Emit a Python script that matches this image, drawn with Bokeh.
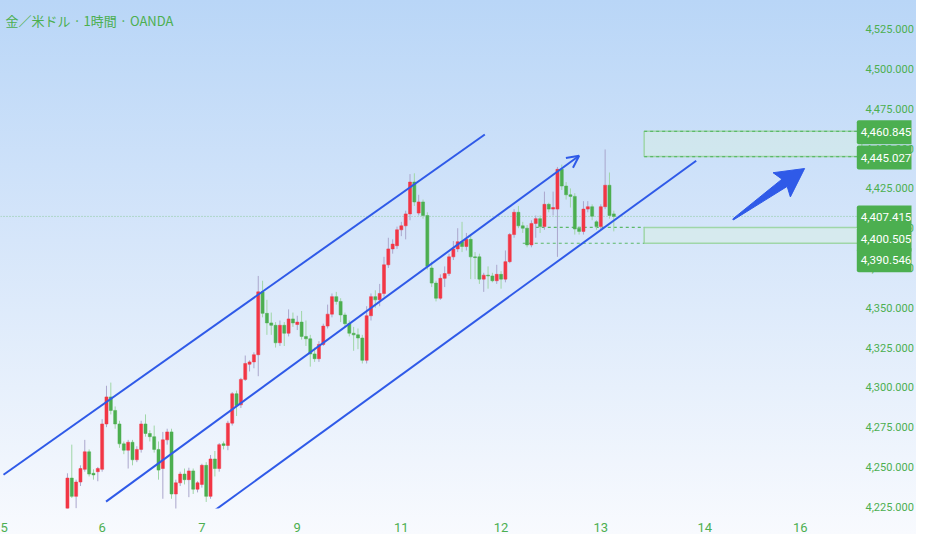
import numpy as np
from bokeh.plotting import figure
from bokeh.models import (ColumnDataSource, FixedTicker, NumeralTickFormatter, Label,
                          Arrow, OpenHead, Range1d)
from bokeh.embed import file_html
from bokeh.resources import INLINE

# ---------------- data (hourly candles) ----------------
opens = [4222, 4243, 4231.5, 4240.5, 4248.5, 4259.5, 4246, 4247, 4248.5, 4277,
         4294, 4285.5, 4277, 4264.5, 4260.5, 4265.5, 4254.5, 4261, 4277, 4271,
         4269, 4261, 4249, 4267, 4272, 4233, 4240, 4245.5, 4242, 4247.5,
         4236, 4239, 4251, 4231.5, 4255, 4249, 4264.5, 4263.5, 4277.5, 4296,
         4289, 4305, 4314.5, 4316, 4320.5, 4360, 4346.5, 4340.5, 4339, 4328,
         4339, 4334, 4343, 4339.5, 4341, 4332, 4330.5, 4321, 4318, 4327,
         4338.5, 4346, 4357, 4354, 4345.5, 4340, 4334, 4333, 4331, 4317,
         4345, 4357, 4355, 4359, 4377, 4387, 4389, 4399, 4401.5, 4409,
         4429, 4409.5, 4416.5, 4408, 4375, 4365.5, 4356, 4368.5, 4371.5, 4382,
         4387, 4391.5, 4388.5, 4393, 4382, 4382, 4368, 4370.5, 4370, 4367,
         4371, 4368, 4379, 4396, 4410, 4401.5, 4400, 4389.5, 4403, 4406,
         4401, 4415, 4412, 4412, 4437, 4426.5, 4421, 4420, 4400, 4398,
         4412, 4413.5, 4404, 4401, 4413.5, 4427, 4409]
highs = [4246, 4264, 4242, 4251, 4267, 4261, 4248.5, 4250, 4280, 4301,
         4303, 4288, 4279, 4266, 4267, 4267, 4263, 4279, 4283, 4273,
         4276, 4266, 4272, 4274, 4274, 4242, 4247, 4249, 4249.5, 4249,
         4241, 4252, 4253, 4257.5, 4260, 4265, 4266, 4279, 4297, 4298,
         4306, 4320, 4317, 4322, 4370, 4367, 4355, 4347, 4341, 4342,
         4341, 4349, 4347, 4345, 4348, 4342, 4333, 4325, 4329, 4340,
         4352, 4359, 4360, 4356, 4347, 4342, 4338, 4337, 4333, 4351,
         4359, 4361, 4365, 4382, 4394, 4393, 4401, 4404, 4411, 4434,
         4434.5, 4421, 4418, 4410, 4379, 4367, 4371, 4376, 4384, 4392,
         4400, 4404, 4397, 4396, 4385, 4384, 4372, 4376, 4372, 4377,
         4373, 4386, 4397, 4412, 4414, 4404, 4402, 4405, 4408, 4408,
         4423, 4416, 4423, 4438.5, 4440, 4429, 4425, 4422, 4401, 4417,
         4417, 4415, 4405, 4415, 4449.5, 4435, 4411]
lows = [4221, 4230.5, 4224, 4238, 4247, 4244, 4242, 4241, 4247, 4275,
        4283, 4274, 4262, 4258, 4249, 4251, 4253, 4259, 4269, 4266,
        4259, 4242, 4230, 4264, 4230, 4222, 4238, 4239, 4231, 4233,
        4234, 4237, 4228, 4230, 4244, 4247, 4261, 4260.5, 4276, 4282,
        4287, 4304, 4310, 4312, 4307, 4344, 4333, 4333, 4325, 4326,
        4326, 4332, 4338, 4336, 4330, 4326, 4313, 4316, 4316, 4326,
        4337, 4344, 4352, 4341, 4338, 4332, 4323, 4324, 4315, 4315,
        4342, 4350, 4351, 4357, 4375, 4384, 4387, 4395, 4393, 4405,
        4414, 4408, 4406, 4374, 4363, 4354, 4355, 4363, 4370, 4380,
        4385, 4385, 4386, 4368, 4368, 4365, 4360, 4362, 4366, 4365,
        4362, 4366, 4378, 4394, 4400, 4397, 4388, 4388, 4394, 4397,
        4399, 4410, 4408, 4382, 4424, 4418, 4413, 4396, 4396, 4396,
        4410, 4405, 4399, 4399, 4412, 4406, 4398]
closes = [4243, 4231.5, 4240.5, 4249, 4259.5, 4245.5, 4245, 4249, 4277, 4294,
          4285.5, 4277, 4264.5, 4260.5, 4265.5, 4254.5, 4261, 4277, 4271, 4269,
          4261, 4248, 4267, 4272, 4233, 4240, 4245.5, 4242, 4247.5, 4236,
          4240, 4251, 4231.5, 4255, 4249, 4264, 4263.5, 4277.5, 4296, 4288.5,
          4305, 4315, 4316, 4320.5, 4360, 4346.5, 4340.5, 4339, 4328, 4339,
          4334, 4343, 4340.5, 4341, 4332, 4330.5, 4321, 4318, 4327, 4338.5,
          4346, 4357, 4354, 4345.5, 4340, 4334, 4333, 4331, 4317, 4345,
          4357, 4355, 4359, 4377, 4387, 4390, 4399, 4401.5, 4409, 4429,
          4416.5, 4416.5, 4408, 4376, 4365.5, 4356, 4368.5, 4371.5, 4382, 4387,
          4391.5, 4388.5, 4393, 4382, 4381.5, 4368, 4370.5, 4370, 4367, 4371,
          4368, 4379, 4396, 4410, 4401.5, 4400, 4389.5, 4403, 4406, 4401,
          4415, 4412, 4413, 4437, 4426.5, 4421, 4420, 4399.5, 4398, 4412,
          4413.5, 4407.5, 4401, 4413.5, 4427, 4408, 4407.415]

# date ticks (candle index where each day label sits)
x_tick_idx = [-15, 8, 31, 53, 77, 100, 123, 147, 169]
x_tick_labels = ["5", "6", "7", "9", "11", "12", "13", "14", "16"]
y_ticks = [4225, 4250, 4275, 4300, 4325, 4350, 4375, 4400, 4425, 4450, 4475, 4500, 4525]

# price tags shown on the right scale
tag_values = [4460.845, 4445.027, 4407.415, 4400.505, 4390.546]
tag_shift_px = [1, 1, 1, 12, 17]

# zones (price bands) and drawings (candle index, price)
zone_upper = (4445.027, 4460.845)
zone_lower = (4390.546, 4400.505)
zone_left_idx = 133
zone_right_idx = 183.2
lower_dash_start = (108, 105)
chart_right_idx = 182.3
channel_top = [(-14.75, 4245.1), (96.25, 4458.9)]
channel_mid = [(8.9, 4228.2), (118.0, 4445.5)]
channel_low = [(33.9, 4222.6), (145.0, 4442.4)]
big_arrow = [(153.5, 4405.5), (170.0, 4437.5)]

title_text = "金／米ドル · 1時間 · OANDA"

# ---------------- figure ----------------
W, H = 916, 534
frame_w, frame_h = 916, 512
px_per_idx, px_per_price = 4.36, 1.604
x_start = -15.44
x_end = x_start + frame_w / px_per_idx
y_end = 4543.08
y_start = y_end - frame_h / px_per_price

GREEN = "#4caf50"
RED = "#f23645"
BLUE = "#2f5ae8"

p = figure(width=W, height=H, x_range=Range1d(x_start, x_end), y_range=Range1d(y_start, y_end),
           output_backend="svg", toolbar_location=None, y_axis_location="right",
           min_border_left=0, min_border_top=0, min_border_right=0,
           min_border_bottom=H - frame_h)
p.grid.visible = False
p.outline_line_color = None
p.background_fill_color = None
p.border_fill_color = None
p.styles = {"background": "linear-gradient(180deg, #b9d6f7 0%, #d6e6fa 45%, #f8fafe 100%)"}

idx = np.arange(len(opens))
o = np.array(opens); c = np.array(closes)
up = c >= o
src = ColumnDataSource(dict(
    x=idx, h=np.array(highs), l=np.array(lows),
    top=np.maximum(o, c), bot=np.minimum(o, c),
    col=[RED if u else GREEN for u in up],
    wick=["#aaa6cc" if u else "#9fd6a6" for u in up],
))

# zones
p.quad(left=[zone_left_idx, zone_left_idx], right=[zone_right_idx, zone_right_idx],
       bottom=[zone_upper[0], zone_lower[0]], top=[zone_upper[1], zone_lower[1]],
       fill_color="#d8efe0", fill_alpha=0.45, line_color="#9fd6a8", line_width=1.5)
p.segment(x0=[zone_left_idx, zone_left_idx], x1=[zone_right_idx, zone_right_idx],
          y0=[zone_upper[0], zone_upper[1]], y1=[zone_upper[0], zone_upper[1]],
          line_color="#5cb96a", line_dash="3 3", line_width=1.2)
p.segment(x0=list(lower_dash_start), x1=[zone_left_idx, zone_left_idx],
          y0=[zone_lower[1], zone_lower[0]], y1=[zone_lower[1], zone_lower[0]],
          line_color="#5cb96a", line_dash="3 3", line_width=1.2)

# last price dotted line
p.segment(x0=[x_start], x1=[chart_right_idx], y0=[closes[-1]], y1=[closes[-1]],
          line_color="#8cc99a", line_dash="1 2", line_width=1)

# candles
p.segment(x0="x", x1="x", y0="l", y1="h", line_color="wick", line_width=1, source=src)
p.vbar(x="x", width=0.7, top="top", bottom="bot", fill_color="col", line_color="col",
       line_width=0.5, source=src)

# channel lines
for ln in (channel_top, channel_low):
    p.line([ln[0][0], ln[1][0]], [ln[0][1], ln[1][1]], line_color=BLUE, line_width=2)
p.add_layout(Arrow(x_start=channel_mid[0][0], y_start=channel_mid[0][1],
                   x_end=channel_mid[1][0], y_end=channel_mid[1][1],
                   line_color=BLUE, line_width=2,
                   end=OpenHead(size=12, line_color=BLUE, line_width=2)))

# fat arrow (shape computed in pixel space)
sx, sy = px_per_idx, px_per_price
tx, ty = big_arrow[0][0] * sx, big_arrow[0][1] * sy
hx, hy = big_arrow[1][0] * sx, big_arrow[1][1] * sy
L = np.hypot(hx - tx, hy - ty)
ux, uy = (hx - tx) / L, (hy - ty) / L
nx, ny = -uy, ux
shape = [(0, -0.6), (L * 0.72, -4.5), (L * 0.68, -15), (L, 0), (L * 0.68, 15), (L * 0.72, 4.5), (0, 0.6)]
ax = [(tx + a * ux + b * nx) / sx for a, b in shape]
ay = [(ty + a * uy + b * ny) / sy for a, b in shape]
p.patch(ax, ay, fill_color=BLUE, line_color=BLUE, line_width=1)

# axes
p.yaxis.ticker = FixedTicker(ticks=y_ticks)
p.yaxis.formatter = NumeralTickFormatter(format="0,0.000")
p.yaxis.axis_line_color = None
p.yaxis.major_tick_line_color = None
p.yaxis.minor_tick_line_color = None
p.yaxis.major_label_text_color = GREEN
p.yaxis.major_label_text_font = "Roboto"
p.yaxis.major_label_text_font_size = "11px"
p.yaxis.major_label_standoff = -52

p.xaxis.ticker = FixedTicker(ticks=x_tick_idx)
p.xaxis.major_label_overrides = {k: v for k, v in zip(x_tick_idx, x_tick_labels)}
p.xaxis.axis_line_color = None
p.xaxis.major_tick_line_color = None
p.xaxis.minor_tick_line_color = None
p.xaxis.major_label_text_color = GREEN
p.xaxis.major_label_text_font = "Roboto"
p.xaxis.major_label_text_font_size = "13px"
p.xaxis.major_label_standoff = 8

# price tags
tag_x = x_end - 55 / sx
for val, off in zip(tag_values, tag_shift_px):
    p.add_layout(Label(x=tag_x, y=val, text=f"{val:,.3f}", y_offset=-off,
                       text_color="white", text_font="Roboto", text_font_size="11.5px",
                       text_baseline="middle", text_align="left",
                       background_fill_color=GREEN, border_radius=2,
                       padding=dict(left=4, right=3, top=8, bottom=8)))

# title
p.add_layout(Label(x=x_start, y=y_end, y_offset=-20, x_offset=5, text=title_text,
                   text_color=GREEN, text_font="Noto Sans CJK JP", text_font_size="13px",
                   text_baseline="middle", text_align="left"))

open("out.html", "w").write(file_html(p, INLINE))
